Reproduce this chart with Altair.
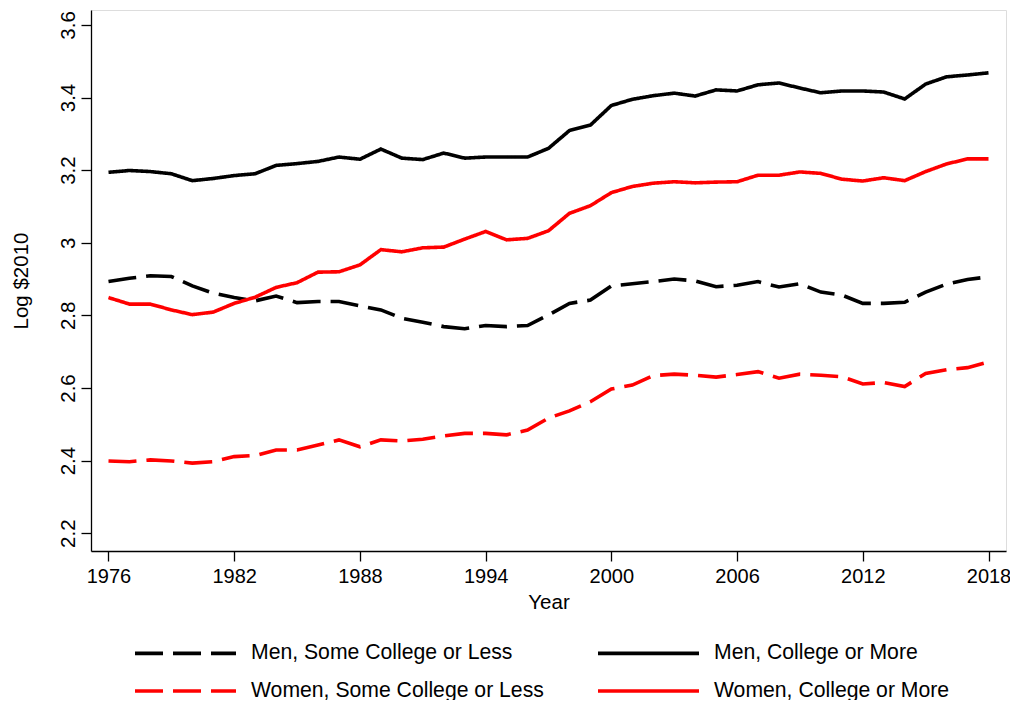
import altair as alt
import pandas as pd

years = list(range(1976, 2019))

series_names = [
    "Men, Some College or Less",
    "Women, Some College or Less",
    "Men, College or More",
    "Women, College or More",
]

men_some = [2.893, 2.902, 2.909, 2.907, 2.881, 2.861, 2.849, 2.840, 2.853, 2.835,
            2.838, 2.838, 2.826, 2.815, 2.792, 2.781, 2.769, 2.763, 2.772, 2.769,
            2.772, 2.801, 2.833, 2.842, 2.881, 2.887, 2.893, 2.900, 2.895, 2.879,
            2.883, 2.893, 2.878, 2.887, 2.864, 2.856, 2.833, 2.833, 2.836, 2.864,
            2.886, 2.899, 2.906]

men_college = [3.194, 3.199, 3.196, 3.190, 3.171, 3.177, 3.185, 3.190, 3.213, 3.218,
               3.224, 3.236, 3.230, 3.258, 3.233, 3.229, 3.247, 3.233, 3.236, 3.236,
               3.236, 3.260, 3.309, 3.324, 3.378, 3.395, 3.405, 3.412, 3.404, 3.421,
               3.418, 3.435, 3.440, 3.426, 3.413, 3.418, 3.418, 3.415, 3.396, 3.437,
               3.457, 3.462, 3.468]

women_some = [2.399, 2.397, 2.402, 2.399, 2.393, 2.397, 2.411, 2.414, 2.429, 2.429,
              2.443, 2.457, 2.438, 2.457, 2.454, 2.459, 2.468, 2.475, 2.475, 2.471,
              2.484, 2.517, 2.537, 2.562, 2.597, 2.608, 2.634, 2.638, 2.635, 2.630,
              2.637, 2.645, 2.627, 2.638, 2.635, 2.631, 2.611, 2.615, 2.604, 2.640,
              2.650, 2.656, 2.672]

women_college = [2.849, 2.831, 2.831, 2.815, 2.802, 2.809, 2.833, 2.850, 2.877, 2.890,
                 2.919, 2.920, 2.939, 2.981, 2.975, 2.986, 2.988, 3.010, 3.031, 3.008,
                 3.012, 3.033, 3.081, 3.102, 3.138, 3.155, 3.164, 3.168, 3.165, 3.167,
                 3.168, 3.186, 3.186, 3.195, 3.191, 3.175, 3.170, 3.179, 3.171, 3.196,
                 3.217, 3.231, 3.231]

y_ticks = [2.2, 2.4, 2.6, 2.8, 3.0, 3.2, 3.4, 3.6]
x_ticks = [1976, 1982, 1988, 1994, 2000, 2006, 2012, 2018]

series_values = [men_some, women_some, men_college, women_college]
rows = []
for name, vals in zip(series_names, series_values):
    for yr, v in zip(years, vals):
        rows.append({"Year": yr, "value": v, "series": name})
df = pd.DataFrame(rows)

FONT = "Liberation Sans"
FS = 20.5
XFS = 20
LFS = 21.2

colors = ["#000000", "#ff0000", "#000000", "#ff0000"]
dashes = [[28, 10], [28, 10], [1, 0], [1, 0]]

legend = alt.Legend(
    title=None,
    orient="none",
    legendX=42,
    legendY=633,
    columns=2,
    symbolType="stroke",
    symbolSize=10201,
    symbolStrokeWidth=3.6,
    clipHeight=20,
    rowPadding=16,
    columnPadding=52,
    labelOffset=13,
    labelFontSize=LFS,
    labelFont=FONT,
    labelColor="black",
    labelLimit=600,
)

chart = alt.Chart(df).mark_line(strokeWidth=3.6, strokeCap="butt").encode(
    x=alt.X(
        "Year:Q",
        scale=alt.Scale(domain=[1975.165, 2018.835], nice=False, zero=False),
        axis=alt.Axis(
            values=x_ticks, format="d", title="Year", grid=False,
            labelFontSize=XFS, labelFont=FONT, labelColor="black",
            titleFontSize=FS, titleFont=FONT, titleFontWeight="normal", titleColor="black",
            tickSize=10, tickColor="black", tickWidth=1.3,
            domainColor="black", domainWidth=1.3,
            labelPadding=5, titlePadding=6,
        ),
    ),
    y=alt.Y(
        "value:Q",
        scale=alt.Scale(domain=[2.151, 3.641], nice=False, zero=False),
        axis=alt.Axis(
            values=y_ticks, format="~g", title="Log $2010", grid=False,
            labelAngle=270, labelAlign="center", labelBaseline="bottom",
            labelFontSize=FS, labelFont=FONT, labelColor="black",
            titleFontSize=FS, titleFont=FONT, titleFontWeight="normal", titleColor="black",
            tickSize=10, tickColor="black", tickWidth=1.3,
            domainColor="black", domainWidth=1.3,
            labelPadding=3, titlePadding=27,
        ),
    ),
    color=alt.Color(
        "series:N",
        scale=alt.Scale(domain=series_names, range=colors),
        legend=legend,
    ),
    strokeDash=alt.StrokeDash(
        "series:N",
        scale=alt.Scale(domain=series_names, range=dashes),
        legend=legend,
    ),
).properties(
    width=915,
    height=541,
    autosize=alt.AutoSizeParams(type="none"),
    padding={"left": 83, "top": 2, "right": 4, "bottom": 149},
).configure_view(stroke=None).configure(font=FONT)

chart.save("out.html", embed_options={"renderer": "svg", "actions": False})
